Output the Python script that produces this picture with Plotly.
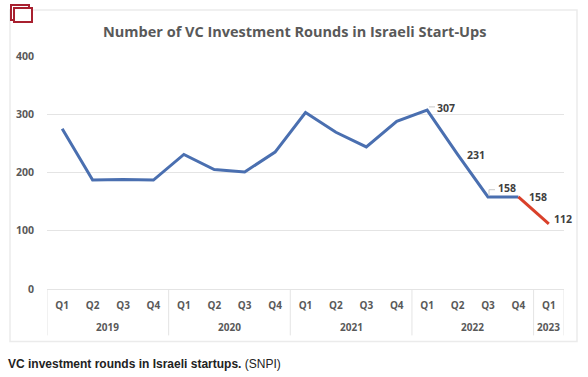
import plotly.graph_objects as go

years = ["2019"]*4 + ["2020"]*4 + ["2021"]*4 + ["2022"]*4 + ["2023"]
quarters = ["Q1","Q2","Q3","Q4"]*4 + ["Q1"]
rounds = [275,187,188,187,231,205,201,235,303,269,244,288,307,231,158,158,112]
forecast_from = 15
labelled = [(12,"307",19,2),(13,"231",18,-1),(14,"158",19,9),(15,"158",20,0),(16,"112",14,5)]
title = "Number of VC Investment Rounds in Israeli Start-Ups"
caption = "<b>VC investment rounds in Israeli startups.</b> (SNPI)"

W,H = 588,377
L,R,T,B = 47,24,56,87.5
PW,PH = W-L-R, H-T-B
px = lambda v:(v-L)/PW
py = lambda v:1-(v-T)/PH
GREY="#595959"; LINE="#e4e4e4"
idx = list(range(len(rounds)))

fig = go.Figure()
fig.add_trace(go.Scatter(x=idx[:forecast_from+1],y=rounds[:forecast_from+1],
    mode="lines",line=dict(color="#4a6fb0",width=3),hoverinfo="skip"))
fig.add_trace(go.Scatter(x=idx[forecast_from:],y=rounds[forecast_from:],
    mode="lines",line=dict(color="#d9402a",width=3),hoverinfo="skip"))

ann=[dict(x=i,y=rounds[i],xref="x",yref="y",text=t,showarrow=False,xshift=dx,yshift=dy,
     font=dict(family="Open Sans",size=10.5,color="#404040",weight="bold")) for i,t,dx,dy in labelled]
ann.append(dict(x=px(294),y=py(31),xref="paper",yref="paper",xanchor="center",yanchor="middle",text=title,showarrow=False,
     font=dict(family="Open Sans",size=14.5,color=GREY,weight="bold")))
ann.append(dict(x=px(6),y=py(365),xref="paper",yref="paper",xanchor="left",yanchor="middle",text=caption,showarrow=False,
     font=dict(family="Liberation Sans",size=12,color="#222222")))

def rect(x0,y0,x1,y1,c,w,fill="rgba(0,0,0,0)"):
    return dict(type="rect",xref="paper",yref="paper",x0=px(x0),x1=px(x1),y0=py(y0),y1=py(y1),line=dict(color=c,width=w),fillcolor=fill,layer="above")
def seg(x0,y0,x1,y1,c,w=1):
    return dict(type="line",xref="paper",yref="paper",x0=px(x0),x1=px(x1),y0=py(y0),y1=py(y1),line=dict(color=c,width=w))
shapes=[rect(10,10,577,342,"#ebebeb",1.5),
        rect(11,5,29,20,"#a8202f",2,"white"),rect(14,8,32,22,"#a8202f",2,"white"),
        seg(429,107,435,107,"#c8c8c8"),seg(489,190,489,196,"#c8c8c8"),seg(489,190,495,190,"#c8c8c8")]

# year group dividers and labels, derived from the category arrays
groups=[]
for i,y in enumerate(years):
    if not groups or groups[-1][0]!=y: groups.append([y,i,i])
    groups[-1][2]=i
yearlow=py(336)
for y,a,b in groups:
    shapes.append(dict(type="line",xref="x",yref="paper",x0=a-0.5,x1=a-0.5,y0=yearlow,y1=0,line=dict(color=LINE,width=1)))
    ann.append(dict(x=(a+b)/2,y=py(328),xref="x",yref="paper",xanchor="center",yanchor="middle",text=y,showarrow=False,
        font=dict(family="Open Sans",size=10,color=GREY,weight="bold")))
shapes.append(dict(type="line",xref="x",yref="paper",x0=16.5,x1=16.5,y0=yearlow,y1=0,line=dict(color=LINE,width=1)))

fig.update_layout(width=W,height=H,margin=dict(l=L,r=R,t=T,b=B,autoexpand=False),
    paper_bgcolor="white",plot_bgcolor="white",showlegend=False,annotations=ann,shapes=shapes,
    xaxis=dict(range=[-0.5,16.5],tickmode="array",tickvals=idx,ticktext=quarters,showline=True,linecolor=LINE,
        ticks="",showgrid=False,zeroline=False,ticklabelstandoff=7,
        tickfont=dict(family="Open Sans",size=10,color=GREY,weight="bold")),
    yaxis=dict(range=[0,400],tickvals=[0,100,200,300,400],showline=False,gridcolor=LINE,gridwidth=1,zeroline=False,
        ticks="",tickfont=dict(family="Open Sans",size=10.5,color=GREY,weight="bold"),ticklabelstandoff=12))
fig.write_html("out.html",post_script="document.body.style.margin='0';",config=dict(displayModeBar=False))
